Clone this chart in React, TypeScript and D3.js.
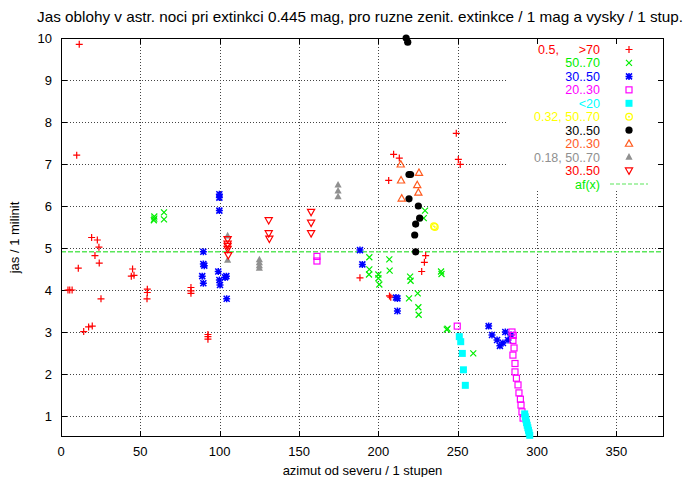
import React from "react";
import * as d3 from "d3";

const titleText = "Jas oblohy v astr. noci pri extinkci 0.445 mag, pro ruzne zenit. extinkce / 1 mag a vysky / 1 stup.";
const xLabel = "azimut od severu / 1 stupen";
const yLabel = "jas / 1 milinit";
const xTicks = [0, 50, 100, 150, 200, 250, 300, 350];
const yTicks = [1, 2, 3, 4, 5, 6, 7, 8, 9, 10];
const afLevel = 4.91;

type P = [number, number];

const redPlus: P[] = [
  [11.5, 9.85], [9.9, 7.21], [19.3, 5.25], [22.9, 5.19], [23.9, 5.02], [21.4, 4.82], [24.1, 4.64],
  [10.9, 4.52], [4.4, 4.0], [5.5, 4.0], [7.0, 4.0], [25.2, 3.79], [14.3, 3.01], [17.4, 3.12],
  [19.7, 3.14], [45.1, 4.5], [44.3, 4.33], [46.0, 4.35], [54.4, 4.02], [54.4, 3.94], [54.2, 3.79],
  [81.9, 4.06], [81.9, 3.98], [81.9, 3.92], [92.6, 2.94], [92.6, 2.89], [92.6, 2.83],
  [249.1, 7.73], [250.4, 7.11], [251.6, 6.99], [209.6, 7.23], [213.2, 7.14], [206.5, 6.61],
  [229.8, 4.82], [229.0, 4.66], [227.3, 4.44], [207.8, 3.83], [207.0, 3.86], [188.4, 4.29],
];
const greenX: P[] = [
  [58.8, 5.75], [58.8, 5.7], [58.5, 5.66], [64.9, 5.85], [64.9, 5.68], [229.4, 5.89], [228.6, 5.71],
  [194.3, 4.78], [206.9, 4.73], [207.1, 4.46], [194.3, 4.49], [194.1, 4.37], [200.0, 4.37],
  [200.0, 4.28], [200.6, 4.13], [220.0, 4.32], [220.3, 4.22], [239.5, 4.44], [239.8, 4.38],
  [219.3, 3.8], [224.8, 3.92], [225.2, 3.59], [225.4, 3.41], [243.1, 3.06], [243.6, 3.08], [259.8, 2.49],
];
const blueStar: P[] = [
  [99.8, 6.28], [99.8, 6.2], [99.8, 5.89], [89.7, 4.91], [89.7, 4.62], [90.3, 4.58], [89.0, 4.33],
  [89.7, 4.16], [99.1, 4.44], [99.8, 4.24], [100.2, 4.12], [103.4, 4.3], [104.2, 4.33], [104.4, 3.79],
  [188.4, 4.95], [189.9, 4.61], [211.1, 3.82], [212.0, 3.8], [212.0, 3.5],
  [269.5, 3.14], [271.6, 2.93], [274.8, 2.81], [276.6, 2.67], [278.5, 2.74], [281.7, 2.81],
  [283.6, 2.93], [280.0, 3.0],
];
const magentaSq: P[] = [
  [161.3, 4.8], [161.3, 4.69], [249.7, 3.14], [284.2, 3.0], [285.0, 2.92], [284.8, 2.8], [285.5, 2.62],
  [284.8, 2.45], [286.1, 2.25], [286.1, 2.05], [287.0, 1.9], [288.0, 1.74], [288.6, 1.55],
  [289.5, 1.4], [289.9, 1.26], [290.5, 1.1], [291.2, 0.95],
];
const cyanSq: P[] = [
  [251.0, 2.89], [251.9, 2.77], [252.9, 2.49], [253.6, 2.1], [254.8, 1.73],
  [292.2, 1.05], [292.6, 0.98], [293.0, 0.91], [293.4, 0.84], [293.8, 0.78], [294.2, 0.72],
  [294.6, 0.66], [295.0, 0.6], [295.4, 0.54],
];
const yellowCircle: P[] = [[235.0, 5.52], [235.6, 5.5]];
const blackDot: P[] = [
  [217.5, 10.0], [218.5, 9.9], [219.3, 6.75], [220.3, 6.75], [219.3, 6.17], [225.2, 6.0],
  [226.0, 5.71], [223.5, 5.57], [222.9, 5.31], [223.5, 4.91],
];
const orangeTri: P[] = [
  [214.1, 6.99], [225.6, 6.79], [214.3, 6.61], [224.5, 6.5], [225.2, 6.32], [214.7, 6.18],
];
const grayTri: P[] = [
  [105.0, 5.29], [105.0, 4.71], [125.0, 4.72], [125.0, 4.65], [125.0, 4.58], [125.0, 4.52],
  [174.6, 6.5], [174.6, 6.36], [174.6, 6.22],
];
const redInvTri: P[] = [
  [105.0, 5.21], [105.0, 5.1], [105.0, 5.05], [105.0, 4.98], [105.4, 4.83], [130.9, 5.66],
  [130.9, 5.35], [131.3, 5.22], [157.6, 5.86], [157.6, 5.6], [157.6, 5.35],
];

type Kind = "plus" | "cross" | "star" | "sq" | "fsq" | "circ" | "dot" | "tri" | "ftri" | "itri";

const series: { label: [string, string]; color: string; kind: Kind; data: P[] }[] = [
  { label: ["0.5,", ">70"], color: "#ff0000", kind: "plus", data: redPlus },
  { label: ["", "50..70"], color: "#00ee00", kind: "cross", data: greenX },
  { label: ["", "30..50"], color: "#0000ff", kind: "star", data: blueStar },
  { label: ["", "20..30"], color: "#ff00ff", kind: "sq", data: magentaSq },
  { label: ["", "<20"], color: "#00ffff", kind: "fsq", data: cyanSq },
  { label: ["", "0.32, 50..70"], color: "#ffff00", kind: "circ", data: yellowCircle },
  { label: ["", "30..50"], color: "#000000", kind: "dot", data: blackDot },
  { label: ["", "20..30"], color: "#ff5a1e", kind: "tri", data: orangeTri },
  { label: ["", "0.18, 50..70"], color: "#909090", kind: "ftri", data: grayTri },
  { label: ["", "30..50"], color: "#ff0000", kind: "itri", data: redInvTri },
];

const W = 686, H = 477;
const L = 61, R = 664, T = 38, B = 437;
const font = "'Liberation Sans', Arial, sans-serif";

function Marker({ kind, color, x, y }: { kind: Kind; color: string; x: number; y: number }) {
  const s = 3.5;
  const sw = 1.2;
  switch (kind) {
    case "plus":
      return <path d={`M${x - s},${y}H${x + s}M${x},${y - s}V${y + s}`} stroke={color} strokeWidth={sw} fill="none" />;
    case "cross":
      return <path d={`M${x - 3},${y - 3}L${x + 3},${y + 3}M${x - 3},${y + 3}L${x + 3},${y - 3}`} stroke={color} strokeWidth={sw} fill="none" />;
    case "star":
      return <path d={`M${x - s},${y}H${x + s}M${x},${y - s}V${y + s}M${x - 3},${y - 3}L${x + 3},${y + 3}M${x - 3},${y + 3}L${x + 3},${y - 3}`} stroke={color} strokeWidth={1.5} fill="none" />;
    case "sq":
      return <rect x={x - 3} y={y - 3} width={6} height={6} stroke={color} strokeWidth={sw} fill="none" />;
    case "fsq":
      return <rect x={x - 3.5} y={y - 3.5} width={7} height={7} fill={color} />;
    case "circ":
      return (
        <g>
          <circle cx={x} cy={y} r={3.3} stroke={color} strokeWidth={sw} fill="none" />
          <circle cx={x} cy={y} r={0.9} fill={color} />
        </g>
      );
    case "dot":
      return <circle cx={x} cy={y} r={3.6} fill={color} />;
    case "tri":
      return <path d={`M${x},${y - 3.8}L${x + 3.6},${y + 2.6}L${x - 3.6},${y + 2.6}Z`} stroke={color} strokeWidth={sw} fill="none" />;
    case "ftri":
      return <path d={`M${x},${y - 4}L${x + 3.6},${y + 2.6}L${x - 3.6},${y + 2.6}Z`} fill={color} />;
    case "itri":
      return <path d={`M${x},${y + 3.8}L${x + 3.6},${y - 2.6}L${x - 3.6},${y - 2.6}Z`} stroke={color} strokeWidth={sw} fill="none" />;
  }
  return null;
}

export default function App() {
  const x = d3.scaleLinear().domain([0, 380]).range([L, R]);
  const y = d3.scaleLinear().domain([0.5, 10]).range([B, T]);
  const keyBox = { x0: 507, x1: 656, y0: T + 1, y1: 190 };
  const keyRowY = (i: number) => 49.5 + i * 13.45;

  return (
    <svg width={W} height={H} style={{ position: "absolute", left: 0, top: 0, background: "#fff" }} fontFamily={font}>
      <rect x={0} y={0} width={W} height={H} fill="#fff" />
      {/* grid */}
      <g stroke="#444" strokeWidth={1} strokeDasharray="1,2" shapeRendering="crispEdges">
        {yTicks.filter((t) => t < 10).map((t) => (
          <line key={"gy" + t} x1={L} x2={R} y1={Math.round(y(t)) + 0.5} y2={Math.round(y(t)) + 0.5} />
        ))}
        {xTicks.filter((t) => t > 0).map((t) => (
          <line key={"gx" + t} x1={Math.round(x(t)) + 0.5} x2={Math.round(x(t)) + 0.5} y1={T} y2={B} />
        ))}
      </g>
      {/* key area blanks grid */}
      <rect x={keyBox.x0} y={keyBox.y0} width={keyBox.x1 - keyBox.x0} height={keyBox.y1 - keyBox.y0} fill="#fff" />
      {/* af(x) */}
      <line x1={L} x2={R} y1={y(afLevel)} y2={y(afLevel)} stroke="#5ae65a" strokeWidth={1.5} strokeDasharray="5,2" />
      {/* border and ticks */}
      <g stroke="#000" strokeWidth={1} shapeRendering="crispEdges" fill="none">
        <rect x={L + 0.5} y={T + 0.5} width={R - L - 1} height={B - T - 1} />
        {yTicks.map((t) => (
          <g key={"ty" + t}>
            <line x1={L} x2={L + 6} y1={Math.round(y(t)) + 0.5} y2={Math.round(y(t)) + 0.5} />
            <line x1={R - 6} x2={R} y1={Math.round(y(t)) + 0.5} y2={Math.round(y(t)) + 0.5} />
          </g>
        ))}
        {xTicks.map((t) => (
          <g key={"tx" + t}>
            <line x1={Math.round(x(t)) + 0.5} x2={Math.round(x(t)) + 0.5} y1={B} y2={B - 6} />
            <line x1={Math.round(x(t)) + 0.5} x2={Math.round(x(t)) + 0.5} y1={T} y2={T + 6} />
          </g>
        ))}
      </g>
      {/* tick labels */}
      <g fontSize={13} fill="#000">
        {yTicks.map((t) => (
          <text key={"ly" + t} x={52} y={y(t) + 4.5} textAnchor="end">{t}</text>
        ))}
        {xTicks.map((t) => (
          <text key={"lx" + t} x={x(t)} y={456} textAnchor="middle">{t}</text>
        ))}
        <text x={(L + R) / 2} y={475} textAnchor="middle">{xLabel}</text>
        <text transform={`translate(19,${(T + B) / 2}) rotate(-90)`} textAnchor="middle">{yLabel}</text>
        <text x={37} y={22} fontSize={14.5} textLength={646} lengthAdjust="spacingAndGlyphs">{titleText}</text>
      </g>
      {/* data */}
      <g>
        {series.map((s, si) =>
          s.data.map((p, i) => (
            <Marker key={si + "-" + i} kind={s.kind} color={s.color} x={x(p[0])} y={y(p[1])} />
          ))
        )}
      </g>
      {/* legend */}
      <g fontSize={12.5}>
        {series.map((s, i) => (
          <g key={"k" + i}>
            {s.label[0] && (
              <text x={538} y={keyRowY(i) + 4.5} fill={s.color}>{s.label[0]}</text>
            )}
            <text x={600} y={keyRowY(i) + 4.5} textAnchor="end" fill={s.color}>{s.label[1]}</text>
            <Marker kind={s.kind} color={s.color} x={629} y={keyRowY(i)} />
          </g>
        ))}
        <text x={600} y={keyRowY(10) + 4.5} textAnchor="end" fill="#00ee00">af(x)</text>
        <line x1={610} x2={648} y1={keyRowY(10)} y2={keyRowY(10)} stroke="#5ae65a" strokeWidth={1.2} strokeDasharray="4,2" />
      </g>
    </svg>
  );
}
